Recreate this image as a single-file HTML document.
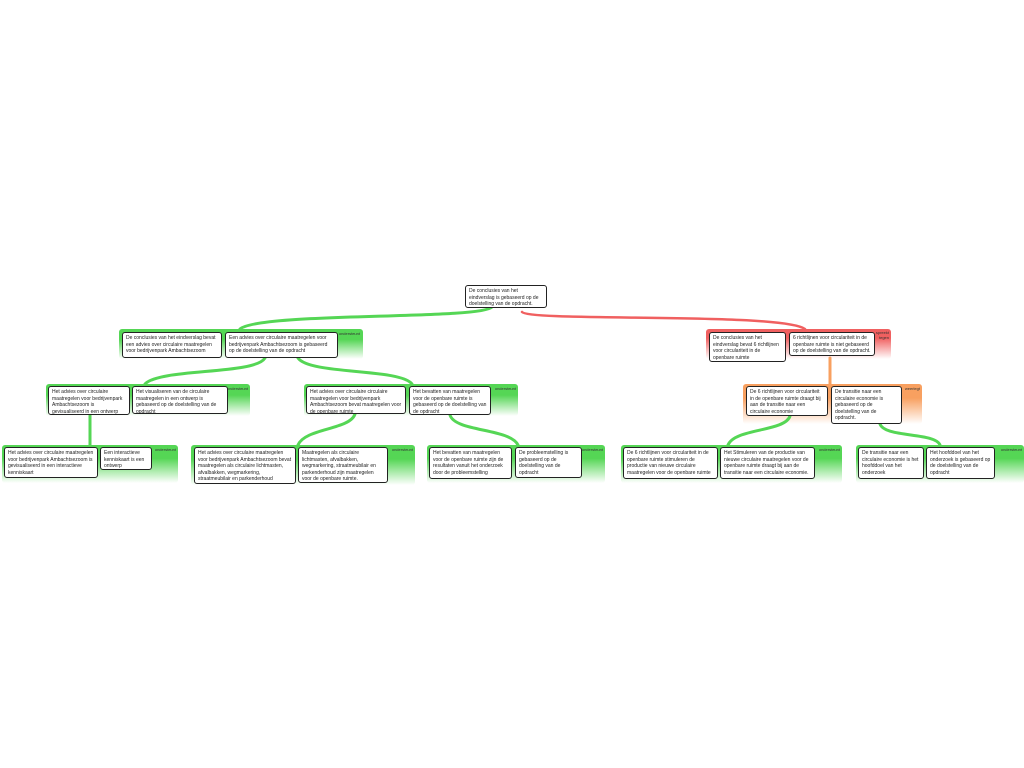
<!DOCTYPE html>
<html><head><meta charset="utf-8"><style>
body{margin:0;width:1024px;height:768px;background:#fff;position:relative;overflow:hidden;font-family:"Liberation Sans",sans-serif}
.g{position:absolute;border-radius:3px}
.gr{background:linear-gradient(#55d655 0%,#55d655 35%,#fff 100%)}
.rd{background:linear-gradient(#f06060 0%,#f06060 30%,#fff 100%)}
.or{background:linear-gradient(#f8a060 0%,#f8a060 35%,#fff 100%)}
.lb{position:absolute;font-size:4px;color:#333;text-align:right;line-height:4.5px}
.n{position:absolute;background:#fff;border:1.3px solid #222;border-radius:3px;box-sizing:border-box;padding:2px 3px;font-size:5px;line-height:6.5px;color:#222}
svg{position:absolute;left:0;top:0}
</style></head><body>
<div class="g gr" style="left:119px;top:329px;width:244px;height:30px"></div>
<div class="lb" style="left:330px;top:332px;width:30px">ondersteunt</div>
<div class="g rd" style="left:706px;top:329px;width:185px;height:30px"></div>
<div class="lb" style="left:872px;top:331px;width:17px">spreekt tegen</div>
<div class="g gr" style="left:46px;top:384px;width:204px;height:32px"></div>
<div class="lb" style="left:218px;top:387px;width:30px">ondersteunt</div>
<div class="g gr" style="left:304px;top:384px;width:214px;height:32px"></div>
<div class="lb" style="left:486px;top:387px;width:30px">ondersteunt</div>
<div class="g or" style="left:743px;top:384px;width:179px;height:40px"></div>
<div class="lb" style="left:895px;top:387px;width:25px">weerlegt</div>
<div class="g gr" style="left:2px;top:445px;width:176px;height:38px"></div>
<div class="lb" style="left:146px;top:448px;width:30px">ondersteunt</div>
<div class="g gr" style="left:191px;top:445px;width:224px;height:40px"></div>
<div class="lb" style="left:383px;top:448px;width:30px">ondersteunt</div>
<div class="g gr" style="left:427px;top:445px;width:178px;height:38px"></div>
<div class="lb" style="left:573px;top:448px;width:30px">ondersteunt</div>
<div class="g gr" style="left:621px;top:445px;width:221px;height:38px"></div>
<div class="lb" style="left:810px;top:448px;width:30px">ondersteunt</div>
<div class="g gr" style="left:856px;top:445px;width:168px;height:38px"></div>
<div class="lb" style="left:992px;top:448px;width:30px">ondersteunt</div>

<svg width="1024" height="768" fill="none" stroke-linecap="round">
<path d="M492 307 C480 320 260 312 240 329" stroke="#55d655" stroke-width="3"/>
<path d="M522 312 C530 322 780 312 805 329" stroke="#f06060" stroke-width="2.5"/>
<path d="M830 358 L830 384" stroke="#f8a060" stroke-width="3"/>
<path d="M265 358 C255 375 160 368 145 384" stroke="#55d655" stroke-width="3"/>
<path d="M298 358 C310 375 400 368 412 384" stroke="#55d655" stroke-width="3"/>
<path d="M90 415 L90 445" stroke="#55d655" stroke-width="3"/>
<path d="M355 414 C350 430 305 428 298 445" stroke="#55d655" stroke-width="3"/>
<path d="M450 415 C455 432 510 428 518 445" stroke="#55d655" stroke-width="3"/>
<path d="M790 416 C785 432 735 428 728 445" stroke="#55d655" stroke-width="3"/>
<path d="M880 424 C885 438 935 432 940 445" stroke="#55d655" stroke-width="3"/>
</svg>

<div class="n" style="left:465px;top:285px;width:82px;height:23px">De conclusies van het eindverslag is gebaseerd op de doelstelling van de opdracht.</div>
<div class="n" style="left:122px;top:332px;width:100px;height:26px">De conclusies van het eindverslag bevat een advies over circulaire maatregelen voor bedrijvenpark Ambachtsezoom</div>
<div class="n" style="left:225px;top:332px;width:113px;height:26px">Een advies over circulaire maatregelen voor bedrijvenpark Ambachtsezoom is gebaseerd op de doelstelling van de opdracht</div>
<div class="n" style="left:709px;top:332px;width:77px;height:30px">De conclusies van het eindverslag bevat 6 richtlijnen voor circulariteit in de openbare ruimte</div>
<div class="n" style="left:789px;top:332px;width:86px;height:24px">6 richtlijnen voor circulariteit in de openbare ruimte is niet gebaseerd op de doelstelling van de opdracht.</div>
<div class="n" style="left:48px;top:386px;width:82px;height:29px">Het advies over circulaire maatregelen voor bedrijvenpark Ambachtsezoom is gevisualiseerd in een ontwerp</div>
<div class="n" style="left:132px;top:386px;width:96px;height:28px">Het visualiseren van de circulaire maatregelen in een ontwerp is gebaseerd op de doelstelling van de opdracht</div>
<div class="n" style="left:306px;top:386px;width:100px;height:28px">Het advies over circulaire circulaire maatregelen voor bedrijvenpark Ambachtsezoom bevat maatregelen voor de openbare ruimte</div>
<div class="n" style="left:409px;top:386px;width:82px;height:29px">Het bevatten van maatregelen voor de openbare ruimte is gebaseerd op de doelstelling van de opdracht</div>
<div class="n" style="left:746px;top:386px;width:82px;height:30px">De 6 richtlijnen voor circulariteit in de openbare ruimte draagt bij aan de transitie naar een circulaire economie</div>
<div class="n" style="left:831px;top:386px;width:71px;height:38px">De transitie naar een circulaire economie is gebaseerd op de doelstelling van de opdracht.</div>
<div class="n" style="left:4px;top:447px;width:94px;height:31px">Het advies over circulaire maatregelen voor bedrijvenpark Ambachtsezoom is gevisualiseerd in een interactieve kenniskaart</div>
<div class="n" style="left:100px;top:447px;width:52px;height:23px">Een interactieve kenniskaart is een ontwerp</div>
<div class="n" style="left:194px;top:447px;width:102px;height:37px">Het advies over circulaire maatregelen voor bedrijvenpark Ambachtsezoom bevat maatregelen als circulaire lichtmasten, afvalbakken, wegmarkering, straatmeubilair en parkenderhoud</div>
<div class="n" style="left:298px;top:447px;width:90px;height:36px">Maatregelen als circulaire lichtmasten, afvalbakken, wegmarkering, straatmeubilair en parkenderhoud zijn maatregelen voor de openbare ruimte.</div>
<div class="n" style="left:429px;top:447px;width:83px;height:32px">Het bevatten van maatregelen voor de openbare ruimte zijn de resultaten vanuit het onderzoek door de probleemstelling</div>
<div class="n" style="left:515px;top:447px;width:67px;height:31px">De probleemstelling is gebaseerd op de doelstelling van de opdracht</div>
<div class="n" style="left:623px;top:447px;width:95px;height:32px">De 6 richtlijnen voor circulariteit in de openbare ruimte stimuleren de productie van nieuwe circulaire maatregelen voor de openbare ruimte</div>
<div class="n" style="left:720px;top:447px;width:95px;height:32px">Het Stimuleren van de productie van nieuwe circulaire maatregelen voor de openbare ruimte draagt bij aan de transitie naar een circulaire economie.</div>
<div class="n" style="left:858px;top:447px;width:66px;height:32px">De transitie naar een circulaire economie is het hoofddoel van het onderzoek</div>
<div class="n" style="left:926px;top:447px;width:69px;height:32px">Het hoofddoel van het onderzoek is gebaseerd op de doelstelling van de opdracht</div>
</body></html>
